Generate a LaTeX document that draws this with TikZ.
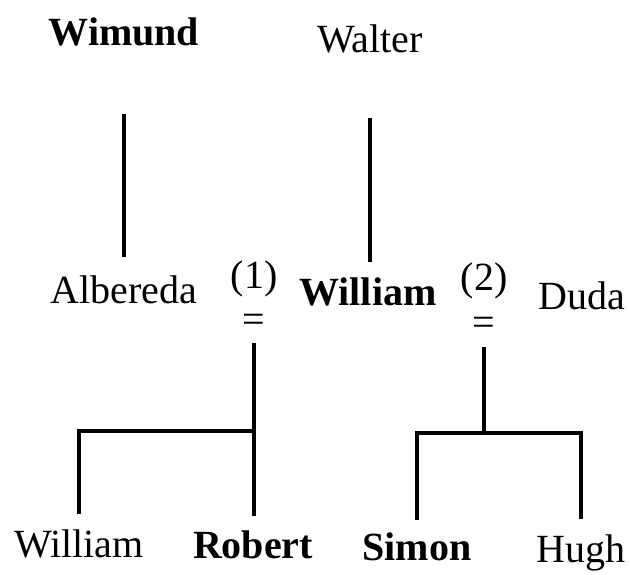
\documentclass[tikz,border=0pt]{standalone}
\usepackage{fontspec}
\setmainfont{Liberation Serif}
\usetikzlibrary{calc}
\tikzset{
  person/.style={inner sep=0pt, anchor=base, font=\fontsize{40}{48}\selectfont},
  chief/.style={person, font=\fontsize{40}{48}\selectfont\bfseries},
  wed/.style={inner sep=0pt, anchor=base, font=\fontsize{40}{48}\selectfont},
  kin/.style={line width=3.4pt}
}

\begin{document}
\begin{tikzpicture}[x=1pt, y=-1pt]
  \useasboundingbox (0,0) rectangle (630,574);

  % --- first generation ---
  \node[chief] (wimund) at (124,45) {Wimund};
  \node[person] (walter) at (370,52) {Walter};

  % --- second generation ---
  \node[person] (albereda) at (124,303) {Albereda};
  \node[chief] (william) at (368,305) {William};
  \node[person] (duda) at (582,309) {Duda};
  \node[person] (m1) at (254,288) {(1)};
  \node[person] (m2) at (484,290) {(2)};
  \node[wed] (eq1) at (254,332) {=};
  \node[wed] (eq2) at (484,335) {=};

  % --- third generation ---
  \node[person] (william2) at (79,557) {William};
  \node[chief] (robert) at (253,558) {Robert};
  \node[chief] (simon) at (417,560) {Simon};
  \node[person] (hugh) at (581,562) {Hugh};

  \coordinate (fork1) at (254,431);
  \coordinate (fork2) at (484,433);

  % --- descent lines ---
  \draw[kin, shorten <=68pt, shorten >=18pt] (wimund.south) -- (albereda.north);
  \draw[kin, shorten <=65pt, shorten >=15pt] (walter.south) -- (walter.south |- william.north);

  \draw[kin, shorten <=11pt, shorten >=14pt] (eq1.base) -- (eq1.base |- robert.north);
  \draw[kin, shorten >=15pt] (fork1) -| (william2.north);

  \draw[kin, shorten <=12pt] (eq2.base) -- (fork2);
  \draw[kin, shorten <=12pt, shorten >=15pt] (simon.north) -- (simon.north |- fork2)
    -- (hugh.north |- fork2) -- (hugh.north);

\end{tikzpicture}
\end{document}
